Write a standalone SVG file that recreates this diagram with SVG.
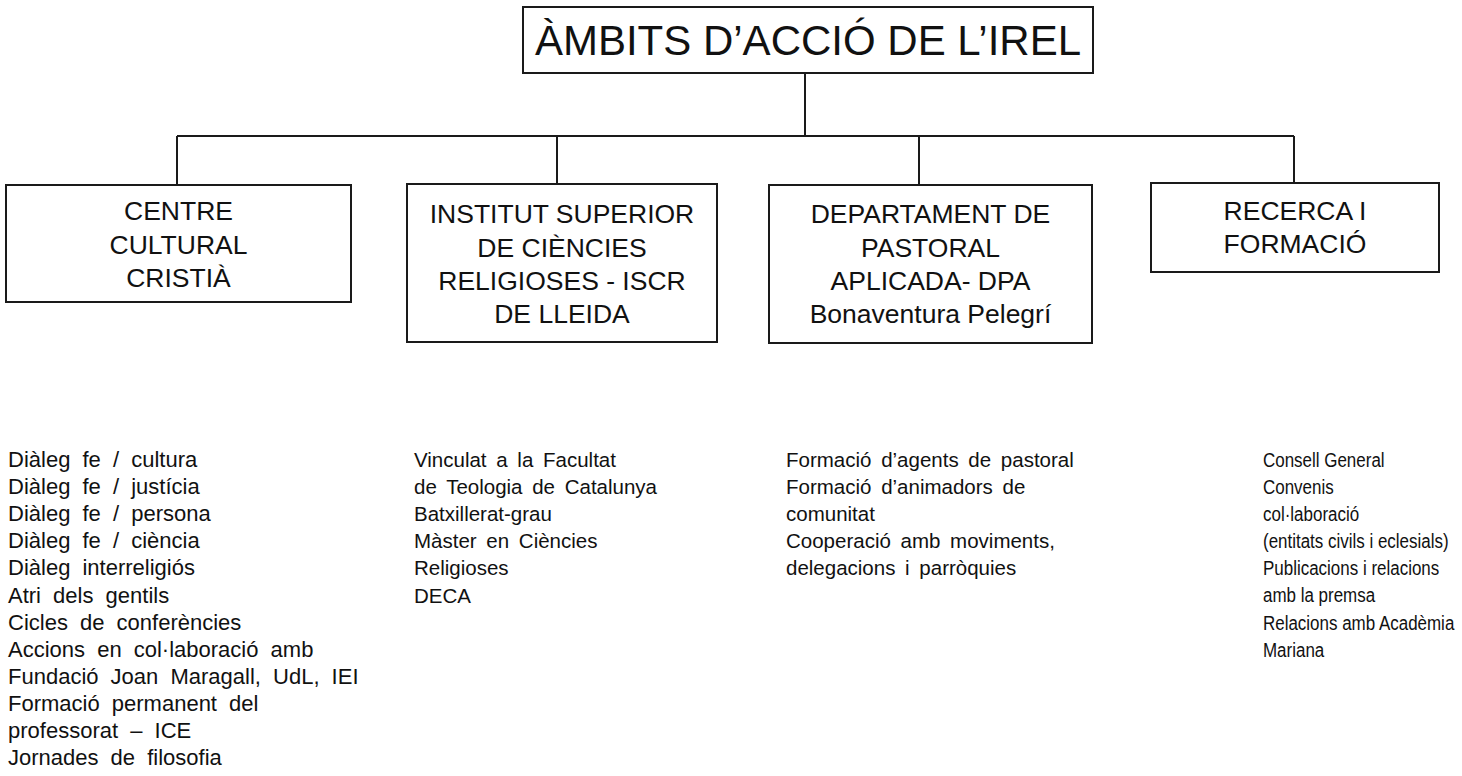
<svg xmlns="http://www.w3.org/2000/svg" width="1462" height="776" viewBox="0 0 1462 776">
<style>
.box{fill:#fff;stroke:#1a1a1a;stroke-width:2}
.ln{stroke:#1a1a1a;stroke-width:2;fill:none}
.t{font-family:"Liberation Sans",Arial,sans-serif;fill:#111;text-anchor:middle}
.title{font-size:42px}
.bt{font-size:26.5px}
.ls1{font-family:"Liberation Sans",Arial,sans-serif;fill:#111;font-size:22px;word-spacing:6px}
.ls{font-family:"Liberation Sans",Arial,sans-serif;fill:#111;font-size:20.5px;word-spacing:4px}
.ls4{font-family:"Liberation Sans",Arial,sans-serif;fill:#111;font-size:19.5px}
</style>
<rect width="1462" height="776" fill="#fff"/>
<g id="connectors">
<line class="ln" x1="805" y1="73" x2="805" y2="136"/>
<line class="ln" x1="177" y1="136" x2="1294" y2="136"/>
<line class="ln" x1="177" y1="136" x2="177" y2="185"/>
<line class="ln" x1="557" y1="136" x2="557" y2="184"/>
<line class="ln" x1="919" y1="136" x2="919" y2="185"/>
<line class="ln" x1="1294" y1="136" x2="1294" y2="183"/>
</g>
<g id="title">
<rect class="box" x="523" y="7" width="570" height="66"/>
<text class="t title" x="808" y="55">ÀMBITS D’ACCIÓ DE L’IREL</text>
</g>
<g id="node-centre">
<rect class="box" x="6" y="185" width="345" height="117"/>
<text class="t bt" x="178.5" y="220">CENTRE</text>
<text class="t bt" x="178.5" y="253.5">CULTURAL</text>
<text class="t bt" x="178.5" y="287">CRISTIÀ</text>
</g>
<g id="node-iscr">
<rect class="box" x="407" y="184" width="310" height="158"/>
<text class="t bt" x="562" y="223">INSTITUT SUPERIOR</text>
<text class="t bt" x="562" y="256.5">DE CIÈNCIES</text>
<text class="t bt" x="562" y="290">RELIGIOSES - ISCR</text>
<text class="t bt" x="562" y="323">DE LLEIDA</text>
</g>
<g id="node-dpa">
<rect class="box" x="769" y="185" width="323" height="158"/>
<text class="t bt" x="930.5" y="223">DEPARTAMENT DE</text>
<text class="t bt" x="930.5" y="256.5">PASTORAL</text>
<text class="t bt" x="930.5" y="290">APLICADA- DPA</text>
<text class="t bt" x="930.5" y="323">Bonaventura Pelegrí</text>
</g>
<g id="node-recerca">
<rect class="box" x="1151" y="183" width="288" height="89"/>
<text class="t bt" x="1295" y="220">RECERCA I</text>
<text class="t bt" x="1295" y="253">FORMACIÓ</text>
</g>
<g id="list-centre" class="ls1">
<text x="8" y="467">Diàleg fe / cultura</text>
<text x="8" y="494.1">Diàleg fe / justícia</text>
<text x="8" y="521.2">Diàleg fe / persona</text>
<text x="8" y="548.3">Diàleg fe / ciència</text>
<text x="8" y="575.4">Diàleg interreligiós</text>
<text x="8" y="602.5">Atri dels gentils</text>
<text x="8" y="629.6">Cicles de conferències</text>
<text x="8" y="656.7">Accions en col·laboració amb</text>
<text x="8" y="683.8">Fundació Joan Maragall, UdL, IEI</text>
<text x="8" y="710.9">Formació permanent del</text>
<text x="8" y="738">professorat – ICE</text>
<text x="8" y="765.1">Jornades de filosofia</text>
</g>
<g id="list-iscr" class="ls">
<text x="414" y="467">Vinculat a la Facultat</text>
<text x="414" y="494.1">de Teologia de Catalunya</text>
<text x="414" y="521.2">Batxillerat-grau</text>
<text x="414" y="548.3">Màster en Ciències</text>
<text x="414" y="575.4">Religioses</text>
<text x="414" y="602.5">DECA</text>
</g>
<g id="list-dpa" class="ls">
<text x="786" y="467">Formació d’agents de pastoral</text>
<text x="786" y="494.1">Formació d’animadors de</text>
<text x="786" y="521.2">comunitat</text>
<text x="786" y="548.3">Cooperació amb moviments,</text>
<text x="786" y="575.4">delegacions i parròquies</text>
</g>
<g id="list-recerca" class="ls4" transform="translate(1263,0) scale(0.87,1)">
<text x="0" y="467">Consell General</text>
<text x="0" y="494.1">Convenis</text>
<text x="0" y="521.2">col·laboració</text>
<text x="0" y="548.3">(entitats civils i eclesials)</text>
<text x="0" y="575.4">Publicacions i relacions</text>
<text x="0" y="602.5">amb la premsa</text>
<text x="0" y="629.6">Relacions amb Acadèmia</text>
<text x="0" y="656.7">Mariana</text>
</g>
</svg>
